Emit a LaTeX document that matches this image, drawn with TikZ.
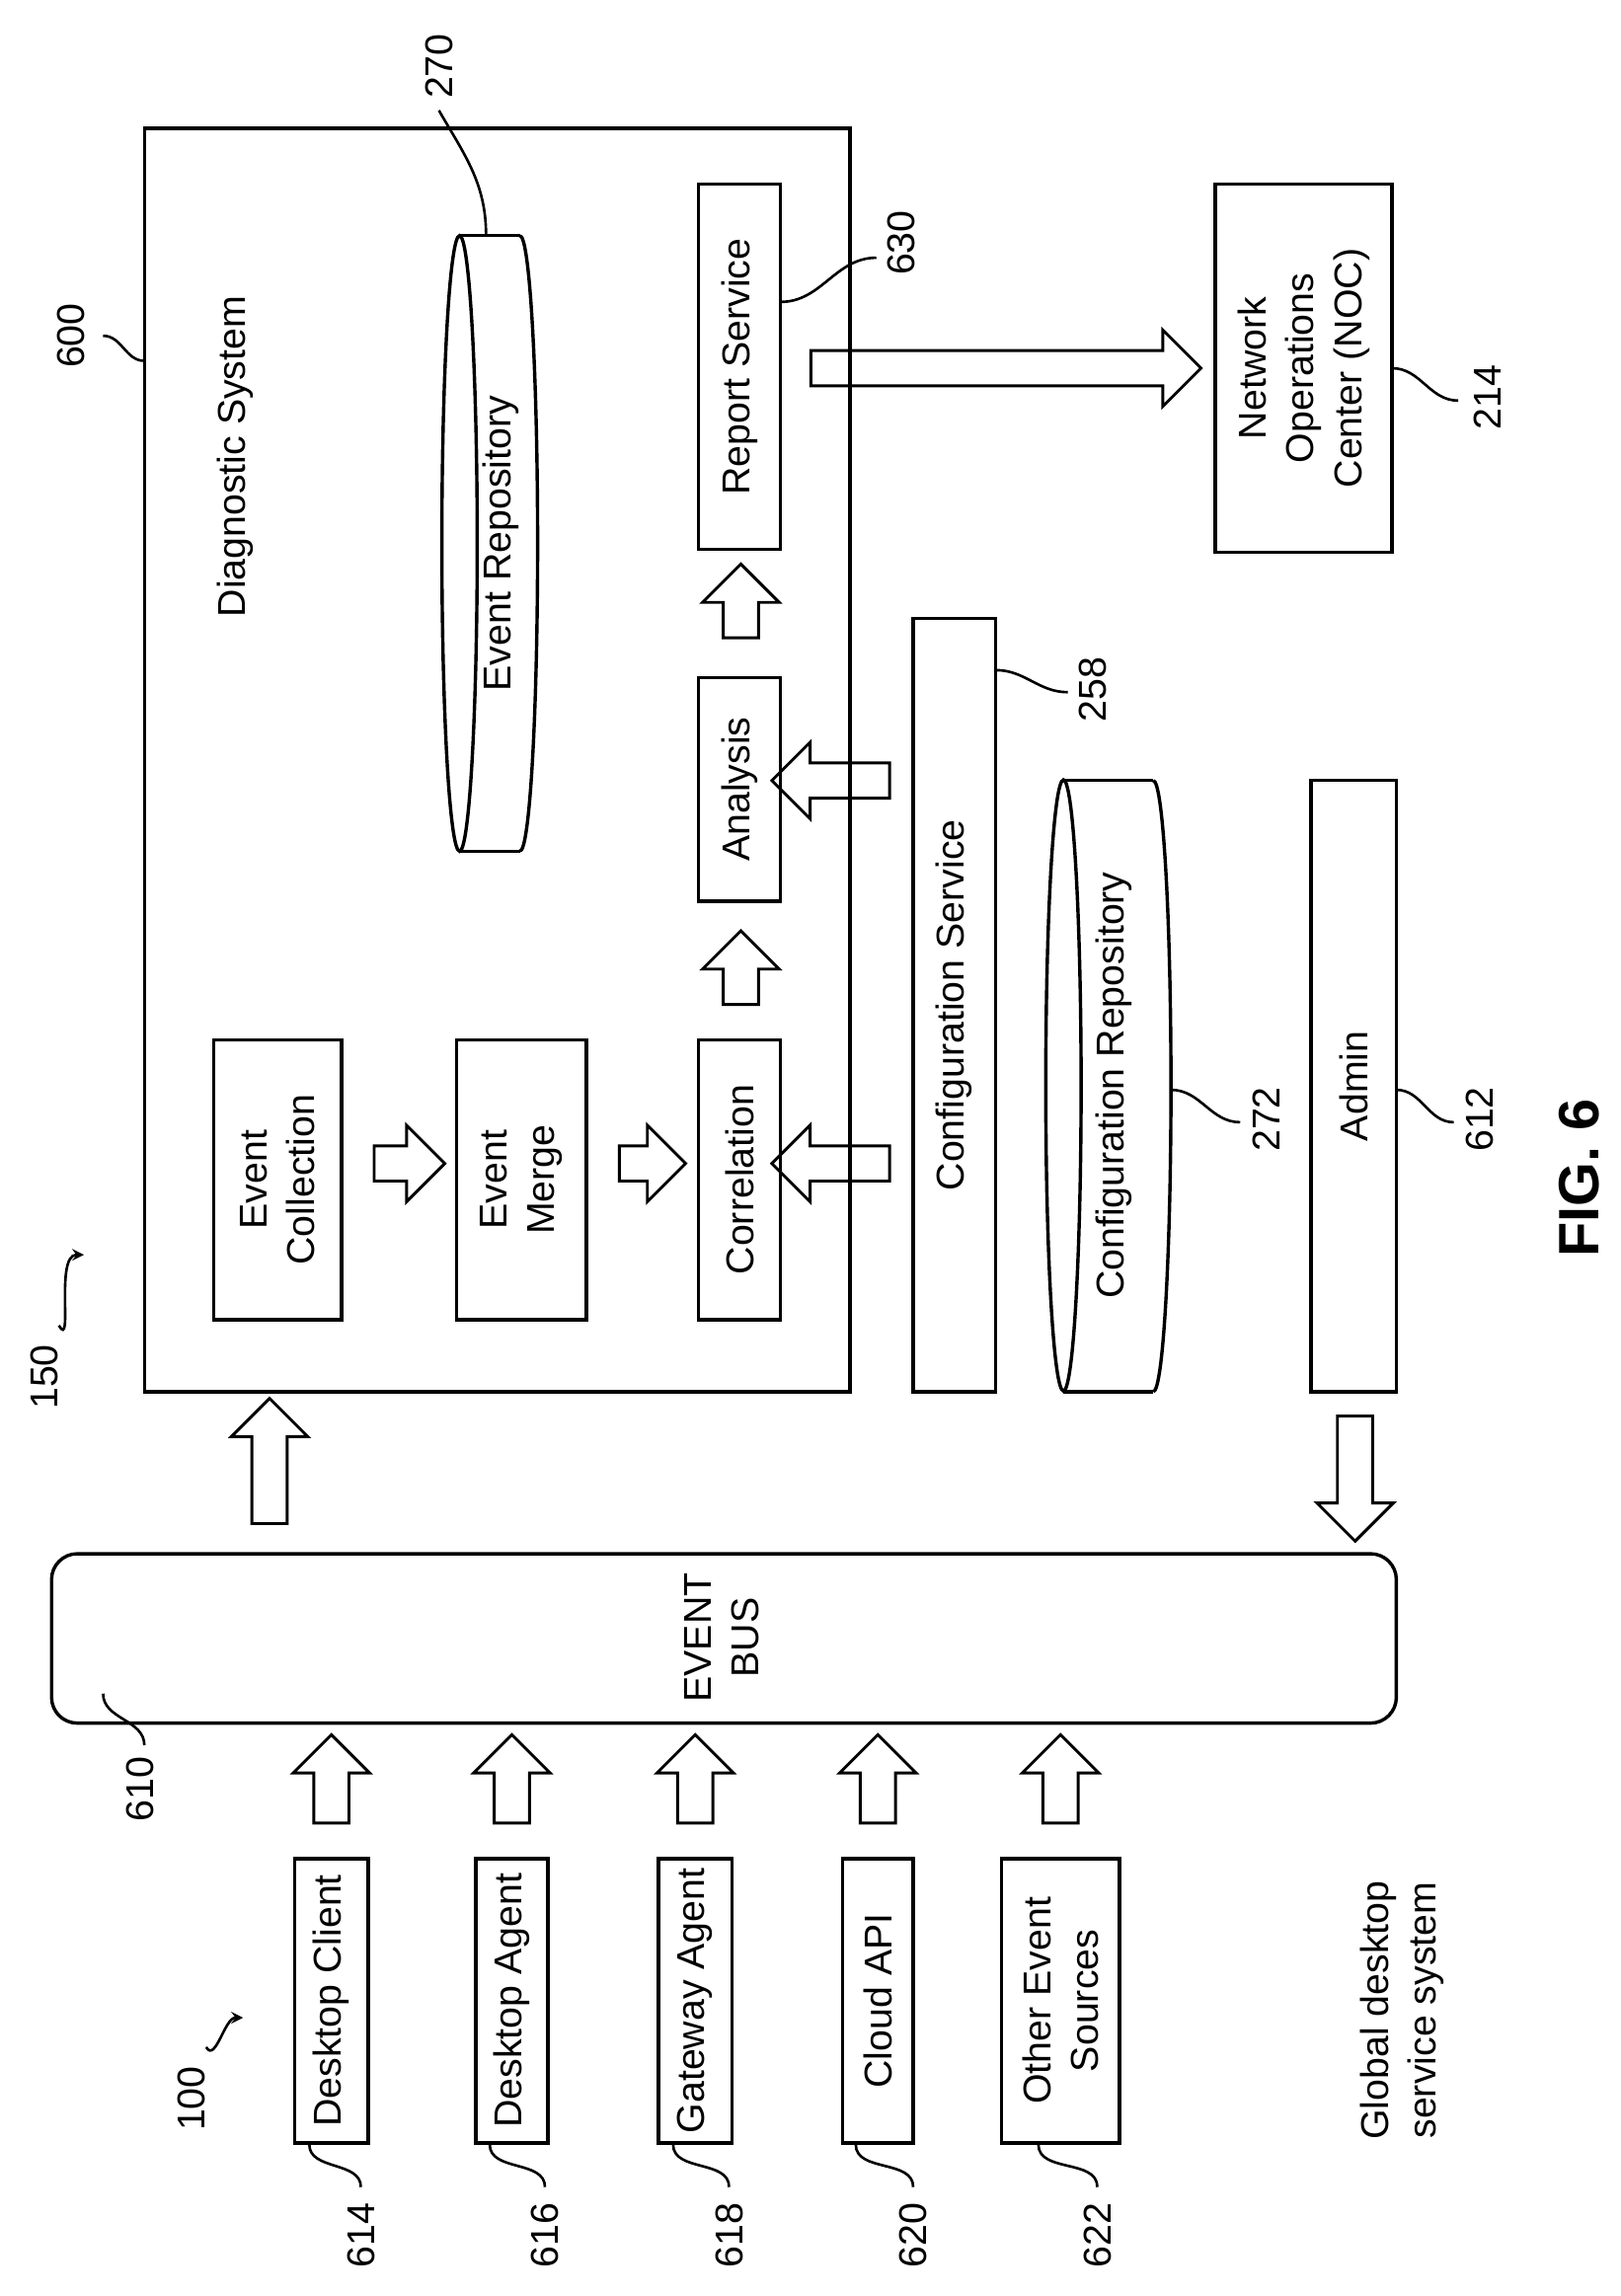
\documentclass[tikz,border=0pt]{standalone}
\usepackage{fontspec}
\setmainfont{Liberation Sans}
\usetikzlibrary{shapes.arrows,fit}

\begin{document}
\begin{tikzpicture}[x=0.02cm,y=-0.02cm,line width=1.3pt,
  font=\fontsize{15}{18.5}\selectfont,
  box/.style={draw,inner sep=0pt},
  txt/.style={rotate=90,align=center},
  barrow/.style={single arrow,draw,line width=1.1pt,inner sep=0pt,inner ysep=0.22cm,
    single arrow head extend=0.28cm,anchor=center},
  lead/.style={line width=1pt}]
\useasboundingbox (0,0) rectangle (1100,1559);

% diagnostic system
\node[box,fit={(98,87) (577,945)}] (diag) {};
\node[txt] (diagt) at (160,310) {Diagnostic System};

\node[box,fit={(145,706) (232,896)}] (coll) {};
\node[txt] at (coll) {Event\\Collection};
\node[box,fit={(310,706) (398,896)}] (merge) {};
\node[txt] at (merge) {Event\\Merge};
\node[box,fit={(474,706) (530,896)}] (corr) {};
\node[txt] at (corr) {Correlation};
\node[box,fit={(474,460) (530,612)}] (anal) {};
\node[txt] at (anal) {Analysis};
\node[box,fit={(474,125) (530,373)}] (report) {};
\node[txt] at (report) {Report Service};

% event repository
\coordinate (er) at (340,369);
\draw (353,160) -- (312,160) (353,578) -- (312,578);
\draw (312,369) ellipse [x radius=0.24cm,y radius=4.18cm];
\draw (353,160) arc [start angle=90,end angle=-90,x radius=0.24cm,y radius=4.18cm];
\node[txt] at (er) {Event Repository};

% configuration side
\node[box,fit={(620,420) (676,945)}] (conf) {};
\node[txt] at (conf) {Configuration Service};
\coordinate (cr) at (756,737);
\draw (783,530) -- (722,530) (783,945) -- (722,945);
\draw (722,737) ellipse [x radius=0.24cm,y radius=4.15cm];
\draw (783,530) arc [start angle=90,end angle=-90,x radius=0.24cm,y radius=4.15cm];
\node[txt] at (cr) {Configuration Repository};
\node[box,fit={(890,530) (948,945)}] (admin) {};
\node[txt] at (admin) {Admin};
\node[box,fit={(825,125) (945,375)}] (noc) {};
\node[txt] at (noc) {Network\\Operations\\Center (NOC)};

% event bus
\node[draw,rounded corners=0.35cm,inner sep=0pt,fit={(35,1055) (948,1170)}] (bus) {};
\node[txt] at (490,1112) {EVENT\\BUS};

% sources
\foreach \n/\xa/\xb/\t in {dc/200/250/Desktop Client,da/323/372/Desktop Agent,
  ga/447/497/Gateway Agent,api/572/620/Cloud API,oes/680/760/Other Event\\Sources}{
  \node[box,fit={(\xa,1262) (\xb,1455)}] (\n) {};
  \node[txt] at (\n) {\t};
  \node[barrow,rotate=90,minimum height=1.2cm] at ([yshift=0.94cm]\n.north) {};
}

% block arrows
\node[barrow,minimum height=0.96cm] (a1) at (272,790) {};
\node[barrow,minimum height=0.9cm] (a2) at (437,790) {};
\node[barrow,rotate=90,minimum height=1.0cm] (a3) at (503,663) {};
\node[barrow,rotate=90,minimum height=1.0cm] (a4) at (503,414) {};
\node[barrow,rotate=180,minimum height=1.6cm] (a5) at (570,790) {};
\node[barrow,rotate=180,minimum height=1.6cm] (a6) at (570,530) {};
\node[barrow,minimum height=5.3cm] (a7) at (677,250) {};
\node[barrow,rotate=90,minimum height=1.7cm] (a8) at (183,998) {};
\node[barrow,rotate=-90,minimum height=1.7cm] (a9) at (920,998) {};

% reference numerals
\node[txt] (n600) at (48,228) {600};
\draw[lead] (70,228) to[out=0,in=180] (98,245);
\node[txt] (n270) at (298,45) {270};
\draw[lead] (298,75) to[out=-60,in=90] (330,160);
\node[txt] (n630) at (612,165) {630};
\draw[lead] (595,175) to[out=180,in=0] (530,205);
\node[txt] (n214) at (1010,270) {214};
\draw[lead] (990,272) to[out=180,in=0] (945,250);
\node[txt] (n258) at (742,468) {258};
\draw[lead] (725,470) to[out=180,in=0] (676,455);
\node[txt] (n272) at (860,760) {272};
\draw[lead] (842,762) to[out=180,in=0] (795,740);
\node[txt] (n612) at (1005,760) {612};
\draw[lead] (987,762) to[out=180,in=0] (948,740);
\node[txt] (n610) at (95,1215) {610};
\draw[lead] (98,1185) to[out=90,in=-90] (70,1150);
\foreach \n/\x/\t in {dc/245/614,da/370/616,ga/495/618,api/620/620,oes/745/622}{
  \node[txt] at (\x,1518) {\t};
  \draw[lead] (\x,1485) to[out=90,in=-90] ([xshift=-0.3cm]\n.south);
}
\node[txt] (n100) at (130,1425) {100};
\draw[lead,-stealth] (140,1390) to[out=-60,in=180] (165,1370);
\node[txt] (n150) at (30,935) {150};
\draw[lead,-stealth] (40,900) to[out=-60,in=180] (57,852);

\node[txt] (gds) at (952,1365) {Global desktop\\service system};
\node[txt,font=\fontsize{22}{26}\selectfont\bfseries] (fig) at (1072,800) {FIG. 6};
\end{tikzpicture}
\end{document}
